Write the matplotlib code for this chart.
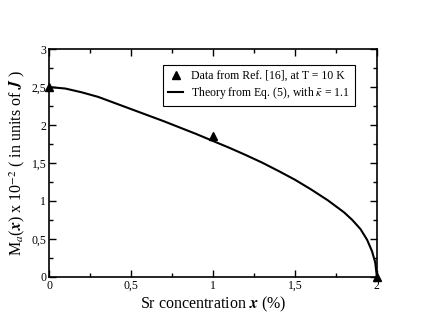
import matplotlib
matplotlib.use("Agg")
import matplotlib.pyplot as plt
from matplotlib.ticker import MultipleLocator, FuncFormatter

plt.rcParams['font.family'] = ['Liberation Serif', 'DejaVu Serif']
plt.rcParams['mathtext.fontset'] = 'stix'

# Data from Ref. [16]
x_data = [0, 1, 2]
m_data = [2.5, 1.86, 0.0]

# Theory curve
x_theory = [0, 0.1, 0.2, 0.3, 0.4, 0.5, 0.6, 0.7, 0.8, 0.9, 1.0, 1.1, 1.2,
            1.3, 1.4, 1.5, 1.6, 1.7, 1.8, 1.85, 1.9, 1.94, 1.97, 1.99, 2.0]
m_theory = [2.50, 2.48, 2.43, 2.37, 2.29, 2.21, 2.13, 2.05, 1.965, 1.88, 1.79,
            1.70, 1.605, 1.505, 1.395, 1.28, 1.15, 1.01, 0.85, 0.75, 0.63, 0.49,
            0.34, 0.19, 0.0]

fig = plt.figure(figsize=(4.23, 3.27), dpi=100)
ax = fig.add_axes([0.116, 0.153, 0.775, 0.697])

ax.plot(x_theory, m_theory, color='black', lw=1.5,
        label=r'Theory from Eq. (5), with $\bar{\kappa}$ = 1.1')
ax.plot(x_data, m_data, linestyle='none', marker='^', color='black',
        markersize=6, clip_on=False, zorder=5,
        label='Data from Ref. [16], at T = 10 K')

ax.set_xlim(0, 2)
ax.set_ylim(0, 3)

comma = FuncFormatter(lambda v, p: ('%g' % v).replace('.', ','))
ax.xaxis.set_major_locator(MultipleLocator(0.5))
ax.xaxis.set_minor_locator(MultipleLocator(0.25))
ax.yaxis.set_major_locator(MultipleLocator(0.5))
ax.yaxis.set_minor_locator(MultipleLocator(0.25))
ax.xaxis.set_major_formatter(comma)
ax.yaxis.set_major_formatter(comma)

ax.tick_params(which='both', direction='in', top=True, right=True,
               labelsize=8.5, width=1)
ax.tick_params(which='major', length=5, pad=2)
ax.tick_params(which='minor', length=3)
for s in ax.spines.values():
    s.set_linewidth(1.2)

ax.set_xlabel(r'Sr concentration $\boldsymbol{x}$ (%)', fontsize=11.5,
              labelpad=2)
ax.set_ylabel(r'M$_{a}$($\boldsymbol{x}$) x 10$^{-2}$ ( in units of $\boldsymbol{J}$ )',
              fontsize=11.5, labelpad=3)

handles, labels = ax.get_legend_handles_labels()
leg = ax.legend(handles[::-1], labels[::-1], loc='upper left',
                bbox_to_anchor=(0.348, 0.93), borderaxespad=0,
                fontsize=8.5, fancybox=False, framealpha=1,
                edgecolor='black', handlelength=1.3, handletextpad=0.7,
                borderpad=0.4, labelspacing=0.3)
leg.get_frame().set_linewidth(0.8)

fig.savefig('out.png', dpi=100)
